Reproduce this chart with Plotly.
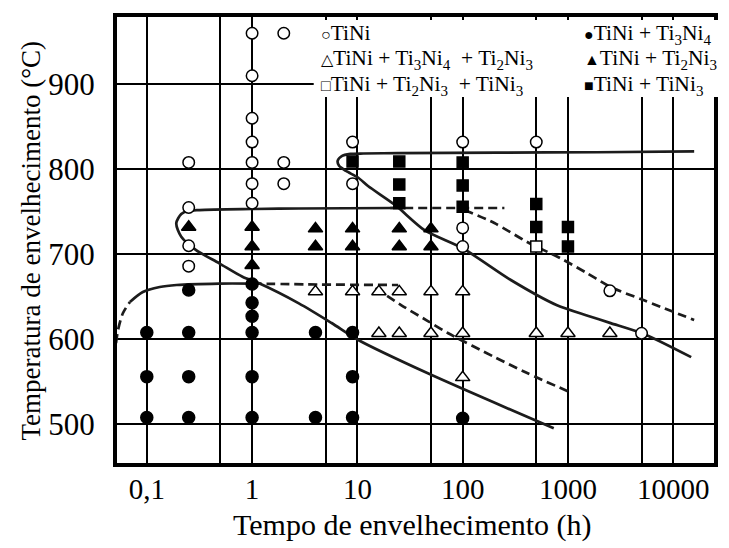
import plotly.graph_objects as go

# Ageing-time / ageing-temperature data (time in h, temperature in °C)
tini_t = [0.25, 0.25, 0.25, 0.25, 1, 1, 1, 1, 1, 1, 1, 2, 2, 2, 9, 9, 100, 100, 100, 500, 2500, 5000]
tini_T = [808, 755, 710, 686, 960, 910, 860, 832, 808, 783, 760, 960, 808, 783, 832, 783, 832, 731, 709, 832, 657, 607]

ti3ni4_t = [0.1, 0.1, 0.1, 0.25, 0.25, 0.25, 0.25, 1, 1, 1, 1, 1, 1, 4, 4, 9, 9, 9, 100]
ti3ni4_T = [608, 556, 508, 658, 608, 556, 508, 665, 643, 627, 608, 556, 508, 608, 508, 608, 556, 508, 507]

tri3_t = [4, 9, 16, 16, 25, 25, 50, 50, 100, 100, 100, 500, 1000, 2500]
tri3_T = [656, 656, 656, 607, 656, 607, 656, 607, 656, 607, 555, 607, 607, 607]

ti2ni3_t = [0.25, 1, 1, 1, 4, 4, 9, 9, 25, 25, 50, 50]
ti2ni3_T = [732, 732, 709, 687, 730, 709, 730, 709, 730, 709, 730, 709]

tini3_t = [9, 25, 25, 25, 100, 100, 100, 500, 500, 1000, 1000]
tini3_T = [809, 809, 782, 760, 808, 781, 756, 759, 732, 732, 709]

mix3_t = [500]
mix3_T = [709]

# Transformation boundaries
upper_t = [15800, 1880, 214, 24.4, 11.4, 8.6, 7.1, 6.5, 6.7, 7.8, 10.2, 12.7, 22.8, 43.8, 100, 284, 787, 1510, 2545, 5325, 14800]
upper_T = [821, 820, 819.5, 819, 818.5, 818, 815.5, 810, 804, 798, 790, 780, 758, 728, 707, 670, 640, 628, 619, 606, 579]

middle_t = [21.9, 2.78, 1, 0.316, 0.244, 0.2125, 0.1906, 0.2125, 0.294, 0.488, 0.81, 1.164, 2.78, 5.69, 10.2, 46.7, 733]
middle_T = [754.4, 753.8, 753.2, 752, 750.8, 747.3, 736.4, 720.6, 704.9, 689.3, 673.5, 665.8, 642.2, 619.1, 599.1, 559.9, 495.2]

lower_solid_t = [0.0691, 0.0917, 0.1327, 0.1919, 0.488, 1]
lower_solid_T = [643.8, 655.5, 661.4, 663.8, 665.5, 665.5]

lower_left_t = [0.0510, 0.0533, 0.0594, 0.0691]
lower_left_T = [595.5, 610.8, 630.8, 643.8]

lower_flat_t = [1, 4.29, 24.4]
lower_flat_T = [665.5, 664.4, 663.8]

lower_diag_t = [14.8, 26.0, 46.7, 72.2, 200, 410, 1091]
lower_diag_T = [660.2, 640.2, 621.4, 607.3, 579.1, 560.2, 536.7]

upper_flat_t = [20.5, 249]
upper_flat_T = [754.4, 754.4]

upper_diag_t = [104, 200, 410, 841, 1510, 2545, 5210, 15790]
upper_diag_T = [752, 736.7, 714.4, 695.5, 677.9, 661.4, 646.1, 622.6]

x_tickvals = [0.1, 1, 10, 100, 1000, 10000]
x_ticktext = ["0,1", "1", "10", "100", "1000", "10000"]
x_minorvals = [0.5, 5, 50, 500, 5000]
y_tickvals = [500, 600, 700, 800, 900]

key_left = [
    ("○", "TiNi"),
    ("△", "TiNi + Ti<sub>3</sub>Ni<sub>4</sub>  + Ti<sub>2</sub>Ni<sub>3</sub>"),
    ("□", "TiNi + Ti<sub>2</sub>Ni<sub>3</sub>  + TiNi<sub>3</sub>"),
]
key_right = [
    ("●", "TiNi + Ti<sub>3</sub>Ni<sub>4</sub>"),
    ("▲", "TiNi + Ti<sub>2</sub>Ni<sub>3</sub>"),
    ("■", "TiNi + TiNi<sub>3</sub>"),
]

SERIF = "Liberation Serif"
INK = "#1c1c1c"

fig = go.Figure()

def curve(t, T, dash="solid", smoothing=0.8):
    fig.add_trace(go.Scatter(
        x=t, y=T, mode="lines", showlegend=False, hoverinfo="skip",
        line=dict(color=INK, width=2.7, dash=dash, shape="spline", smoothing=smoothing),
    ))

DASH = "9px,5px"
curve(upper_t, upper_T, smoothing=0.7)
curve(middle_t, middle_T)
curve(lower_solid_t, lower_solid_T)
curve(lower_left_t, lower_left_T, DASH)
curve(lower_flat_t, lower_flat_T, DASH)
curve(lower_diag_t, lower_diag_T, DASH)
curve(upper_flat_t, upper_flat_T, DASH)
curve(upper_diag_t, upper_diag_T, DASH)

def points(t, T, symbol, size, fill):
    fig.add_trace(go.Scatter(
        x=t, y=T, mode="markers", showlegend=False,
        marker=dict(symbol=symbol, size=size, color=fill,
                    line=dict(color="black", width=1.5)),
    ))

points(tini_t, tini_T, "circle", 11.5, "white")
points(ti3ni4_t, ti3ni4_T, "circle", 12, "black")
points(tri3_t, tri3_T, "triangle-up", 12.5, "white")
points(ti2ni3_t, ti2ni3_T, "triangle-up", 12.5, "black")
points(tini3_t, tini3_T, "square", 11, "black")
points(mix3_t, mix3_T, "square", 11, "white")

axis_common = dict(
    showgrid=True, gridcolor="black", gridwidth=1.5,
    showline=True, linecolor="black", linewidth=4, mirror=True,
    ticks="", zeroline=False,
)

fig.update_xaxes(type="log", range=[-1.283, 4.387],
                 tickvals=x_tickvals, ticktext=x_ticktext,
                 tickfont=dict(family=SERIF, size=29, color="black"),
                 ticklabelstandoff=-3,
                 minor=dict(tickvals=x_minorvals, showgrid=True,
                            gridcolor="black", gridwidth=1.5, ticks=""),
                 **axis_common)
fig.update_yaxes(range=[454.4, 979.1], tickvals=y_tickvals,
                 tickfont=dict(family=SERIF, size=31, color="black"),
                 ticklabelstandoff=12, **axis_common)

# White panel holding the phase key
fig.add_shape(type="rect", xref="paper", yref="paper",
              x0=0.3295, x1=1.03, y0=0.8206, y1=0.9933,
              fillcolor="white", line=dict(width=0), layer="above")

row_tops = [0.9955, 0.9384, 0.8812]
for xpos, entries in [(0.3378, key_left), (0.7787, key_right)]:
    for ytop, (glyph, label) in zip(row_tops, entries):
        fig.add_annotation(
            x=xpos, y=ytop, xref="paper", yref="paper",
            xanchor="left", yanchor="top", align="left", showarrow=False,
            text='<span style="font-size:16px">' + glyph + "</span>" + label,
            font=dict(family=SERIF, size=21.5, color="black"),
        )

fig.add_annotation(x=0.495, y=-0.140, xref="paper", yref="paper",
                   xanchor="center", yanchor="middle", showarrow=False,
                   text="Tempo de envelhecimento (h)",
                   font=dict(family=SERIF, size=30, color="black"))
fig.add_annotation(x=-0.1448, y=0.4978, xref="paper", yref="paper",
                   xanchor="center", yanchor="middle", showarrow=False,
                   textangle=-90,
                   text="Temperatura de envelhecimento (°C)",
                   font=dict(family=SERIF, size=27, color="black"))

fig.update_layout(
    width=729, height=548,
    margin=dict(l=117, r=11, t=17, b=85),
    paper_bgcolor="white", plot_bgcolor="white",
    showlegend=False,
)

fig.write_html("out.html")
